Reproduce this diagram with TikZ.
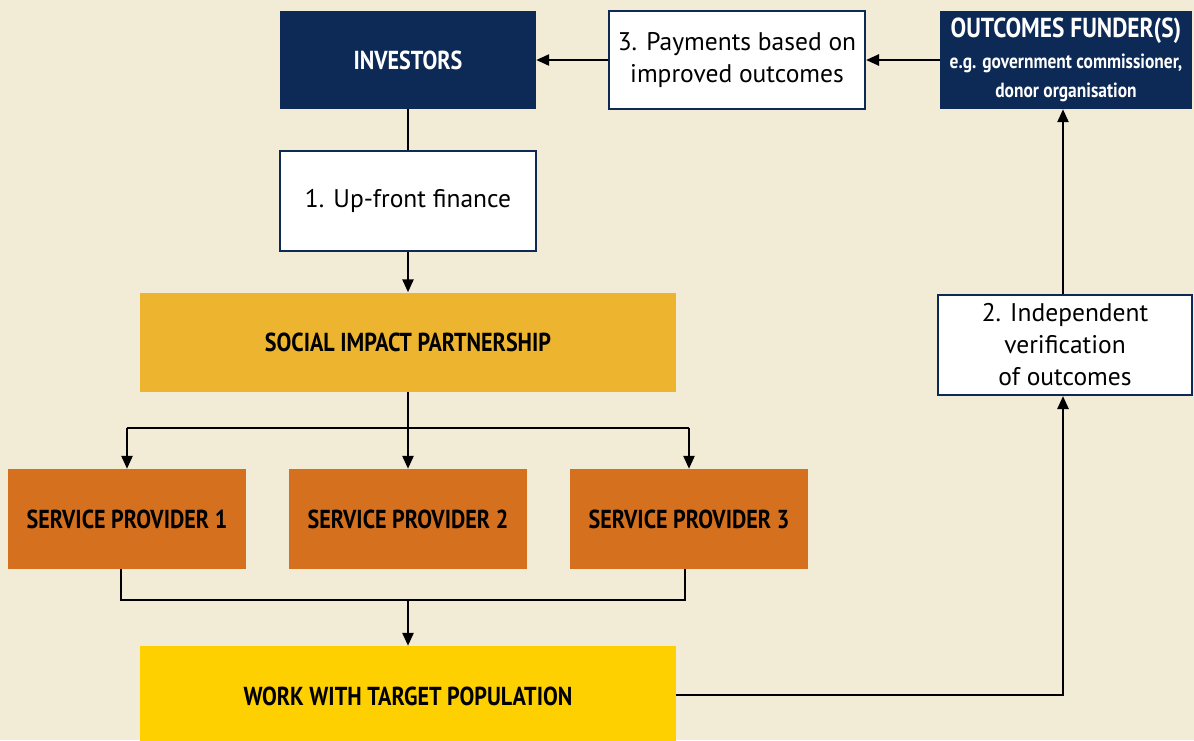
\documentclass[tikz,border=0pt]{standalone}
\usepackage{fontspec}
\setmainfont{PT Sans}
\newfontfamily\cond[FakeStretch=0.85]{PT Sans}
\usetikzlibrary{arrows.meta}
\definecolor{bg}{HTML}{F2EBD6}
\definecolor{navy}{HTML}{0D2A56}
\definecolor{gold}{HTML}{EDB52F}
\definecolor{orng}{HTML}{D5711E}
\definecolor{yell}{HTML}{FFD000}
\tikzset{
  box/.style={rectangle, inner sep=0pt, align=center},
  darkbox/.style={box, fill=navy, text=white, font=\cond\bfseries\fontsize{26}{30}\selectfont},
  whitebox/.style={box, fill=white, draw=navy, line width=2pt, font=\fontsize{25.5}{32}\selectfont},
  colbox/.style={box, text=black, font=\cond\bfseries\fontsize{26}{30}\selectfont},
  conn/.style={line width=2.5pt, draw=black},
  arr/.style={conn, -{Triangle[length=13pt,width=11pt]}},
}
\begin{document}
\begin{tikzpicture}[x=1pt,y=-1pt]
\fill[bg] (0,0) rectangle (1194,740);
\useasboundingbox (0,0) rectangle (1194,740);
\node[darkbox, minimum width=256pt, minimum height=98pt] (inv) at (408,60) {INVESTORS};
\node[whitebox, minimum width=256pt, minimum height=98pt] (pay) at (737,60) {3. Payments based on\\improved outcomes};
\node[darkbox, minimum width=252pt, minimum height=98pt] (fund) at (1066,60) {{\fontsize{27.5}{30}\selectfont OUTCOMES FUNDER(S)}\\[1pt]{\fontsize{20.5}{28}\selectfont e.g. government commissioner,}\\[-1pt]{\fontsize{20.5}{28}\selectfont donor organisation}};
\node[whitebox, minimum width=256pt, minimum height=100pt] (upf) at (408,201) {1. Up-front finance};
\node[colbox, fill=gold, minimum width=536pt, minimum height=99pt] (sip) at (408,342) {SOCIAL IMPACT PARTNERSHIP};
\node[colbox, fill=orng, minimum width=238pt, minimum height=100pt] (sp1) at (127,519) {SERVICE PROVIDER 1};
\node[colbox, fill=orng, minimum width=238pt, minimum height=100pt] (sp2) at (408,519) {SERVICE PROVIDER 2};
\node[colbox, fill=orng, minimum width=238pt, minimum height=100pt] (sp3) at (689,519) {SERVICE PROVIDER 3};
\node[colbox, fill=yell, minimum width=536pt, minimum height=100pt] (wtp) at (408,696) {WORK WITH TARGET POPULATION};
\node[whitebox, minimum width=254pt, minimum height=100pt] (ver) at (1065,345) {2. Independent\\verification\\of outcomes};
\coordinate (b1) at (408,428);
\coordinate (b2) at (408,600);
\draw[conn] (inv.south) -- (upf.north);
\draw[arr] (upf.south) -- (sip.north);
\draw[conn] (sip.south) -- (b1);
\draw[conn] (sp1.north |- b1) -- (sp3.north |- b1);
\draw[arr] (sp1.north |- b1) -- (sp1.north);
\draw[arr] (b1) -- (sp2.north);
\draw[arr] (sp3.north |- b1) -- (sp3.north);
\draw[conn] ([xshift=-6pt]sp1.south) |- (b2) -| ([xshift=-4pt]sp3.south);
\draw[arr] (b2) -- (wtp.north);
\draw[arr] (wtp.east |- 0,695) -| ([xshift=-2pt]ver.south);
\draw[arr] ([xshift=-2pt]ver.north) -- ([xshift=-2pt]ver.north |- fund.south);
\draw[arr] (fund.west) -- (pay.east);
\draw[arr] (pay.west) -- (inv.east);
\end{tikzpicture}
\end{document}
